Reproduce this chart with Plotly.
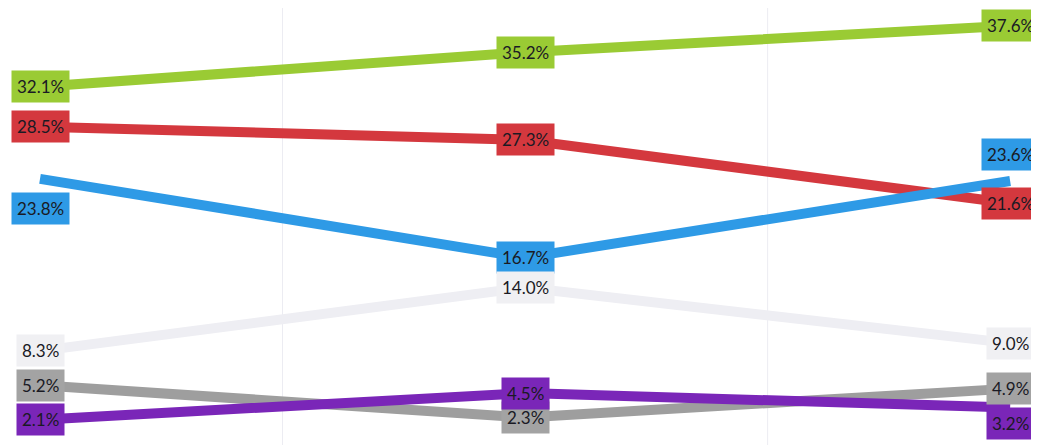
import plotly.graph_objects as go

periods = [0, 1, 2]
series_names = ["Green", "Red", "Blue", "Light", "Gray", "Purple"]
green = [32.1, 35.2, 37.6]
red = [28.5, 27.3, 21.6]
blue = [23.8, 16.7, 23.6]
light = [8.3, 14.0, 9.0]
gray = [5.2, 2.3, 4.9]
purple = [2.1, 4.5, 3.2]

all_series = [green, red, blue, light, gray, purple]
line_colors = ["#9acb34", "#d4383e", "#2e9ae6", "#eeeef3", "#9e9e9e", "#7a26b8"]
box_colors = ["#9acb34", "#d4383e", "#2e9ae6", "#f0f0f3", "#a3a3a3", "#7a26b8"]

# label offsets (pixels) per series per point, only for label placement
yshifts = {2: [-30, 0, 27], 5: [0, 0, -16]}

fig = go.Figure()
for i, vals in enumerate(all_series):
    fig.add_trace(go.Scatter(x=periods, y=vals, mode="lines", name=series_names[i],
                             line=dict(color=line_colors[i], width=10),
                             hoverinfo="skip"))

for i, vals in enumerate(all_series):
    for j, v in enumerate(vals):
        ys = yshifts.get(i, [0, 0, 0])[j]
        fig.add_annotation(x=periods[j], y=v, text=f"{v:.1f}%", showarrow=False,
                           xref="x", yref="y", yshift=ys,
                           bgcolor=box_colors[i], borderpad=5,
                           font=dict(family="Lato, Open Sans, sans-serif", size=17, color="#1a1a24"))

for gx in [0.5, 1.5]:
    fig.add_shape(type="line", xref="x", yref="paper", x0=gx, x1=gx, y0=0, y1=1,
                  line=dict(color="#ececf2", width=1), layer="below")

fig.update_layout(
    width=1039, height=445,
    margin=dict(l=0, r=0, t=0, b=0),
    paper_bgcolor="white", plot_bgcolor="white",
    showlegend=False,
    xaxis=dict(range=[-0.066, 2.076], showgrid=False, zeroline=False, showticklabels=False),
    yaxis=dict(range=[-0.90, 39.19], showgrid=False, zeroline=False, showticklabels=False),
)

fig.write_html("out.html")
